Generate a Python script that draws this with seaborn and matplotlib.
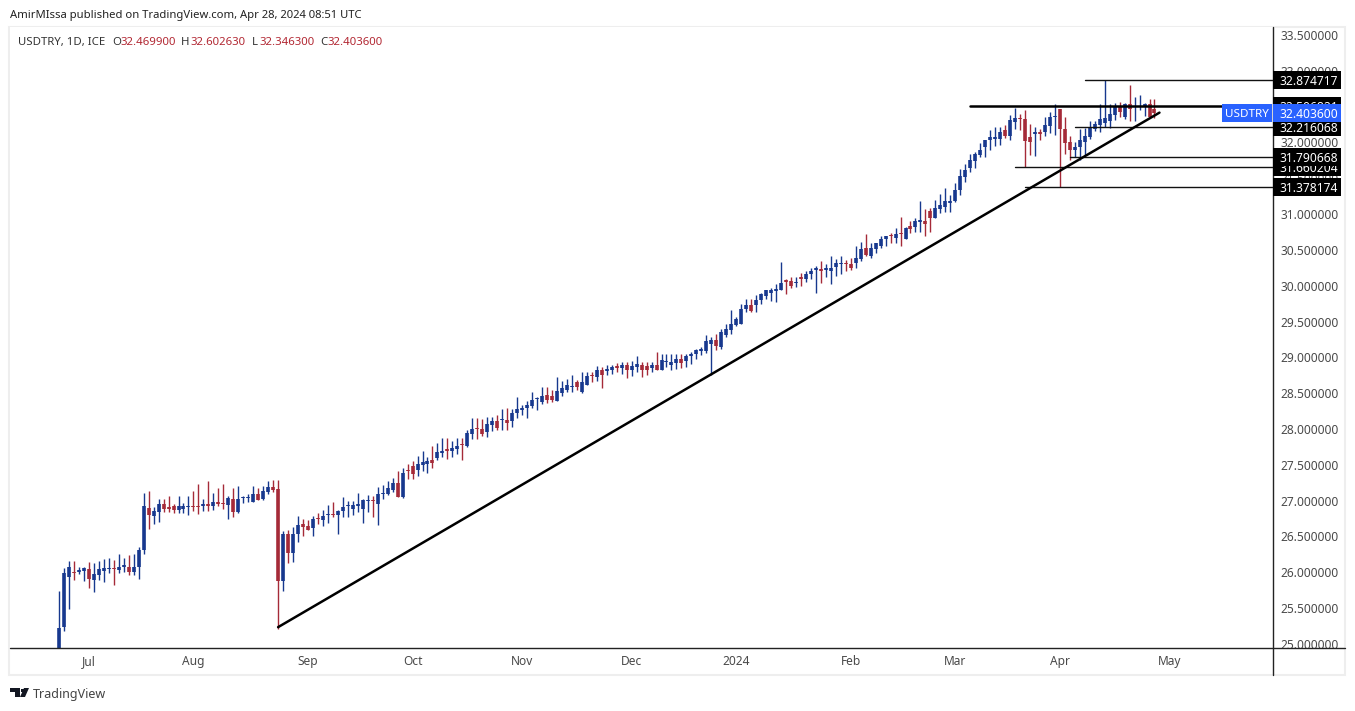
import pandas as pd
import numpy as np
import seaborn as sns
import matplotlib.pyplot as plt
from matplotlib.lines import Line2D
from matplotlib.patches import Rectangle, Polygon

# Velas diarias USDTRY
opens = [
    24.9,25.24,25.93,26.01,26.0,26.02,26.04,25.89,25.96,26.02,
    26.04,26.05,26.03,26.07,26.08,26.01,26.07,26.31,26.9,26.78,
    26.84,26.96,26.91,26.92,26.87,26.89,26.91,26.92,26.92,26.92,
    26.96,26.92,26.97,26.96,26.94,27.02,26.84,27.035,27.04,26.98,
    27.09,27.02,27.12,27.19,27.16,25.88,26.54,26.27,26.54,26.68,
    26.64,26.62,26.75,26.73,26.8,26.805,26.8,26.86,26.92,26.89,
    26.93,26.89,26.99,26.995,26.95,27.095,27.09,27.15,27.25,27.05,
    27.42,27.48,27.43,27.5,27.51,27.57,27.6,27.66,27.705,27.69,
    27.72,27.785,27.76,27.93,28.005,28.0,27.96,28.05,28.11,28.12,
    28.13,28.11,28.22,28.26,28.29,28.32,28.415,28.37,28.47,28.46,
    28.39,28.5,28.54,28.585,28.65,28.51,28.62,28.74,28.73,28.82,
    28.815,28.83,28.88,28.85,28.9,28.83,28.87,28.9,28.88,28.85,
    28.9,28.83,28.93,28.9,28.92,28.97,28.95,29.02,29.04,29.095,
    29.085,29.18,29.24,29.15,29.31,29.38,29.45,29.47,29.67,29.73,
    29.73,29.8,29.86,29.9,29.93,29.94,30.08,30.06,30.04,30.12,
    30.09,30.16,30.22,30.23,30.225,30.21,30.26,30.305,30.31,30.3,
    30.32,30.37,30.52,30.41,30.51,30.56,30.65,30.695,30.67,30.73,
    30.65,30.83,30.82,30.895,30.9,31.04,30.95,31.07,31.1,31.15,
    31.18,31.34,31.52,31.64,31.74,31.83,31.93,32.03,32.05,32.05,
    32.17,32.09,32.29,32.33,32.32,32.07,32.12,32.14,32.15,32.23,
    32.35,32.46,32.18,32.0,31.89,31.93,32.0,32.07,32.19,32.24,
    32.27,32.3,32.38,32.5,32.35,32.53,32.495,32.495,32.5,32.54,
    32.4699,
]
highs = [
    25.74,26.06,26.16,26.16,26.07,26.08,26.14,26.13,26.16,26.18,
    26.2,26.17,26.25,26.2,26.24,26.25,26.36,27.11,27.13,26.91,
    27.02,27.03,27.06,26.96,27.06,26.97,27.06,27.13,27.23,27.03,
    27.27,27.11,27.18,27.23,27.06,27.18,27.21,27.07,27.09,27.2,
    27.17,27.21,27.27,27.29,27.29,26.57,26.59,26.63,26.78,26.74,
    26.73,26.78,26.83,26.87,26.94,26.98,26.875,27.05,26.99,27.0,
    27.11,27.03,27.08,27.06,27.19,27.22,27.28,27.31,27.42,27.46,
    27.51,27.56,27.62,27.7,27.61,27.76,27.81,27.87,27.87,27.83,
    27.88,27.88,27.99,28.15,28.15,28.14,28.17,28.17,28.19,28.28,
    28.3,28.28,28.44,28.33,28.39,28.51,28.44,28.58,28.58,28.54,
    28.72,28.67,28.7,28.76,28.69,28.79,28.79,28.79,28.88,28.86,
    28.9,28.9,28.92,28.93,28.94,28.95,29.02,28.94,28.94,28.93,
    29.07,29.05,29.05,29.05,29.04,29.05,29.05,29.08,29.12,29.145,
    29.31,29.29,29.33,29.4,29.46,29.66,29.56,29.75,29.82,29.81,
    29.87,29.9,29.94,29.97,30.03,30.33,30.1,30.12,30.12,30.18,
    30.21,30.24,30.27,30.34,30.3,30.41,30.37,30.41,30.36,30.38,
    30.55,30.61,30.72,30.59,30.6,30.69,30.7,30.73,30.8,30.96,
    30.82,30.9,30.95,31.18,31.07,31.08,31.19,31.28,31.37,31.26,
    31.43,31.63,31.7,31.84,31.87,31.99,32.04,32.17,32.22,32.22,
    32.24,32.38,32.48,32.4,32.45,32.25,32.22,32.19,32.36,32.43,
    32.53,32.46,32.36,32.09,32.0,32.19,32.2,32.3,32.3,32.54,
    32.87,32.53,32.55,32.57,32.55,32.8,32.63,32.66,32.55,32.6,
    32.6026,
]
lows = [
    24.85,25.18,25.49,25.89,25.97,25.88,25.78,25.73,25.89,25.87,
    25.99,25.82,25.99,26.0,25.96,25.96,25.9,26.26,26.6,26.68,
    26.7,26.84,26.84,26.83,26.83,26.83,26.8,26.85,26.81,26.86,
    26.86,26.87,26.92,26.89,26.74,26.77,26.83,26.97,26.98,26.98,
    27.01,27.01,27.09,27.12,25.21,25.74,26.13,26.14,26.42,26.51,
    26.59,26.51,26.68,26.65,26.69,26.77,26.53,26.77,26.77,26.8,
    26.84,26.69,26.84,26.77,26.66,27.03,27.08,27.12,27.05,27.04,
    27.3,27.3,27.35,27.41,27.39,27.46,27.57,27.61,27.58,27.61,
    27.65,27.57,27.75,27.86,27.86,27.9,27.89,27.97,27.98,27.99,
    27.98,28.03,28.15,28.19,28.15,28.29,28.26,28.35,28.36,28.37,
    28.39,28.46,28.52,28.52,28.54,28.5,28.61,28.65,28.67,28.57,
    28.75,28.77,28.79,28.77,28.71,28.74,28.79,28.73,28.75,28.79,
    28.82,28.83,28.87,28.83,28.84,28.85,28.87,28.91,28.97,29.03,
    29.06,28.76,29.1,29.12,29.28,29.33,29.44,29.46,29.63,29.63,
    29.63,29.75,29.81,29.79,29.77,29.94,29.88,29.97,29.98,30.0,
    30.05,30.1,29.9,30.04,30.12,30.02,30.14,30.16,30.21,30.22,
    30.25,30.34,30.42,30.39,30.46,30.52,30.56,30.6,30.59,30.56,
    30.65,30.73,30.75,30.75,30.7,30.75,30.95,31.02,31.03,31.03,
    31.17,31.26,31.45,31.58,31.64,31.8,31.8,31.9,31.95,31.96,
    32.06,32.04,32.18,32.17,31.66,31.82,31.81,32.03,32.09,32.13,
    32.1,31.38,31.84,31.75,31.79,31.75,31.82,32.05,32.16,32.15,
    32.22,32.2,32.31,32.35,32.33,32.3,32.3,32.45,32.37,32.35,
    32.3463,
]
closes = [
    25.23,25.99,26.08,25.99,26.03,26.06,25.91,25.97,26.05,26.06,
    26.05,26.04,26.07,26.1,26.01,26.08,26.31,26.92,26.8,26.85,
    26.96,26.89,26.88,26.87,26.93,26.92,26.915,26.915,26.91,26.96,
    26.92,26.98,26.96,26.95,27.04,26.84,27.03,27.04,27.05,27.1,
    27.01,27.13,27.19,27.15,25.88,26.54,26.27,26.54,26.66,26.63,
    26.59,26.75,26.74,26.79,26.805,26.8,26.86,26.91,26.925,26.94,
    26.96,27.01,26.995,26.99,27.09,27.1,27.17,27.25,27.05,27.39,
    27.415,27.37,27.51,27.54,27.55,27.52,27.68,27.7,27.7,27.73,
    27.76,27.78,27.95,28.0,28.0,27.93,28.07,28.11,28.02,28.125,
    28.08,28.23,28.28,28.3,28.33,28.4,28.42,28.46,28.41,28.41,
    28.53,28.57,28.61,28.59,28.58,28.65,28.74,28.735,28.83,28.75,
    28.82,28.86,28.85,28.9,28.82,28.88,28.91,28.82,28.83,28.89,
    28.83,28.96,28.935,28.93,28.98,28.92,29.02,29.05,29.1,29.1,
    29.23,29.24,29.16,29.36,29.4,29.46,29.53,29.67,29.73,29.65,
    29.8,29.88,29.94,29.94,29.95,30.04,30.05,30.0,30.05,30.1,
    30.17,30.2,30.24,30.21,30.23,30.25,30.31,30.31,30.305,30.24,
    30.38,30.51,30.43,30.52,30.59,30.65,30.69,30.69,30.72,30.725,
    30.8,30.79,30.9,30.9,30.86,30.95,31.08,31.12,31.18,31.18,
    31.33,31.53,31.62,31.75,31.84,31.89,32.03,32.07,32.08,32.14,
    32.09,32.31,32.34,32.32,32.02,32.0,32.14,32.12,32.24,32.35,
    32.37,32.18,31.99,31.89,31.94,32.03,32.09,32.2,32.25,32.32,
    32.34,32.4,32.5,32.43,32.53,32.46,32.505,32.505,32.53,32.36,
    32.4036,
]

first_day = "2023-06-23"
month_starts = ["2023-07-03","2023-08-01","2023-09-01","2023-10-02","2023-11-01",
                "2023-12-01","2024-01-01","2024-02-01","2024-03-01","2024-04-01","2024-05-01"]
month_labels = ["Jul","Aug","Sep","Oct","Nov","Dec","2024","Feb","Mar","Apr","May"]
price_ticks = [25.0,25.5,26.0,26.5,27.0,27.5,28.0,28.5,29.0,29.5,30.0,30.5,31.0,31.5,32.0,32.5,33.0,33.5]

# Niveles horizontales: precio y vela donde empieza cada uno
level_prices = [32.874717, 32.216068, 31.790668, 31.660204, 31.378174]
level_starts = [206, 204, 203, 192, 194]
resistance_price = 32.506821
resistance_bars = [183, 234]
trend_bars = [44, 221]
trend_prices = [25.235, 32.415]

BLUE = "#17388e"
RED = "#a52a38"
TEXT = "#4a4a4a"
W, H = 1355, 711
X_MIN, X_MAX = -9.84, 243.8

# Tablas largas para dibujar mechas y cuerpos con seaborn
n = len(closes)
bars = np.arange(n)
direction = ["down" if c < o else "up" for o, c in zip(opens, closes)]
body_lo = np.minimum(opens, closes)
body_hi = np.maximum(np.maximum(opens, closes), body_lo + 0.017)

wicks = pd.DataFrame({
    "bar": np.r_[bars, bars],
    "price": np.r_[lows, highs],
    "direction": direction * 2,
})
bodies = pd.DataFrame({
    "bar": np.r_[bars, bars],
    "price": np.r_[body_lo, body_hi],
    "direction": direction * 2,
})

sns.set_theme(style="white")
plt.rcParams["font.family"] = ["Noto Sans", "DejaVu Sans"]

fig = plt.figure(figsize=(W / 100, H / 100), dpi=100, facecolor="white")
ax = fig.add_axes([10 / W, 1 - 648 / H, 1263 / W, 621 / H])
palette = {"up": BLUE, "down": RED}

sns.lineplot(data=wicks, x="bar", y="price", hue="direction", palette=palette, units="bar",
             estimator=None, sort=False, legend=False, lw=1.0, solid_capstyle="butt", ax=ax, zorder=2)
sns.lineplot(data=bodies, x="bar", y="price", hue="direction", palette=palette, units="bar",
             estimator=None, sort=False, legend=False, lw=2.6, solid_capstyle="butt", ax=ax, zorder=3)

# Lineas dibujadas a mano en el grafico
for price, start in zip(level_prices, level_starts):
    sns.lineplot(x=[start, X_MAX], y=[price, price], color="#111111", lw=1.0, ax=ax, zorder=4)
sns.lineplot(x=resistance_bars, y=[resistance_price] * 2, color="black", lw=1.8, ax=ax, zorder=4)
sns.lineplot(x=trend_bars, y=trend_prices, color="black", lw=1.8, ax=ax, zorder=5)

ax.set_xlim(X_MIN, X_MAX)
ax.set_ylim(24.944, 33.61)
ax.set_xlabel("")
ax.set_ylabel("")

all_days = pd.bdate_range(first_day, periods=260)
ax.set_xticks(all_days.searchsorted(pd.to_datetime(month_starts)))
ax.set_xticklabels(month_labels, fontsize=8.6, color=TEXT)
ax.get_xticklabels()[6].set_fontweight("bold")
ax.yaxis.tick_right()
ax.set_yticks(price_ticks)
ax.set_yticklabels([f"{p:.6f}" for p in price_ticks], fontsize=8.6, color=TEXT)
ax.tick_params(axis="x", length=0, pad=5)
ax.tick_params(axis="y", length=0, pad=5.5)
for side in ["top", "left", "right", "bottom"]:
    ax.spines[side].set_visible(False)


def fig_rect(x0, y0, x1, y1, **kw):
    fig.add_artist(Rectangle((x0 / W, 1 - y1 / H), (x1 - x0) / W, (y1 - y0) / H,
                             transform=fig.transFigure, **kw))


# Marco gris y ejes negros
fig_rect(9, 27, 1345, 675, fc="none", ec="#eeeeee", lw=1.5, zorder=0)
fig.add_artist(Line2D([10 / W, 1345 / W], [1 - 648 / H] * 2, color="#222222", lw=1.0))
fig.add_artist(Line2D([1273 / W] * 2, [1 - 27 / H, 1 - 675 / H], color="#222222", lw=1.0))

# Etiquetas de precio sobre el eje, en orden de apilado
tags = [(resistance_price, "black"), (31.660204, "black"), (32.874717, "black"),
        (32.216068, "black"), (31.790668, "black"), (31.378174, "black"), (32.4036, "#2962ff")]
for rank, (price, colour) in enumerate(tags):
    y_px = ax.transData.transform((0, price))[1]
    fig_rect(1273, H - y_px - 9, 1341, H - y_px + 9, fc=colour, ec="none", zorder=6 + rank)
    fig.text(1309 / W, y_px / H, f"{price:.6f}", color="white", fontsize=8.7, ha="center",
             va="center_baseline", zorder=6 + rank)

y_px = ax.transData.transform((0, 32.4036))[1]
fig_rect(1222, H - y_px - 9, 1272, H - y_px + 9, fc="#2962ff", ec="none", zorder=13)
fig.text(1247 / W, y_px / H, "USDTRY", color="white", fontsize=8.4, ha="center",
         va="center_baseline", zorder=13)

# Cabecera
fig.text(10 / W, 1 - 14 / H, "AmirMIssa published on TradingView.com, Apr 28, 2024 08:51 UTC",
         fontsize=8.1, color="#222222", va="center_baseline")
fig.text(18 / W, 1 - 41 / H, "USDTRY, 1D, ICE", fontsize=8.2, color="#333333", va="center_baseline")
legend_items = [(112, "O", 120, "32.469900"), (181, "H", 190, "32.602630"),
                (252, "L", 259, "32.346300"), (320, "C", 327, "32.403600")]
for x_key, key, x_val, val in legend_items:
    fig.text(x_key / W, 1 - 41 / H, key, fontsize=8.2, color="#333333", va="center_baseline")
    fig.text(x_val / W, 1 - 41 / H, val, fontsize=8.2, color="#b22833", va="center_baseline")

# Logo y marca de TradingView
logo_parts = [
    [(10, 688), (20, 688), (20, 697), (15, 697), (15, 692), (10, 692)],
    [(24, 688), (29, 688), (25, 697), (20, 697)],
]
for part in logo_parts:
    xy = np.array(part, dtype=float)
    fig.add_artist(Polygon(np.c_[xy[:, 0] / W, 1 - xy[:, 1] / H], closed=True, fc="#131722",
                           ec="none", transform=fig.transFigure))
fig.add_artist(Rectangle((20.5 / W, 1 - 692 / H), 3 / W, 3.5 / H, fc="#131722", ec="none",
                         transform=fig.transFigure))
fig.text(33 / W, 1 - 693 / H, "TradingView", fontsize=9, color="#444444", va="center_baseline")

fig.savefig("out.png", dpi=100, facecolor="white")
